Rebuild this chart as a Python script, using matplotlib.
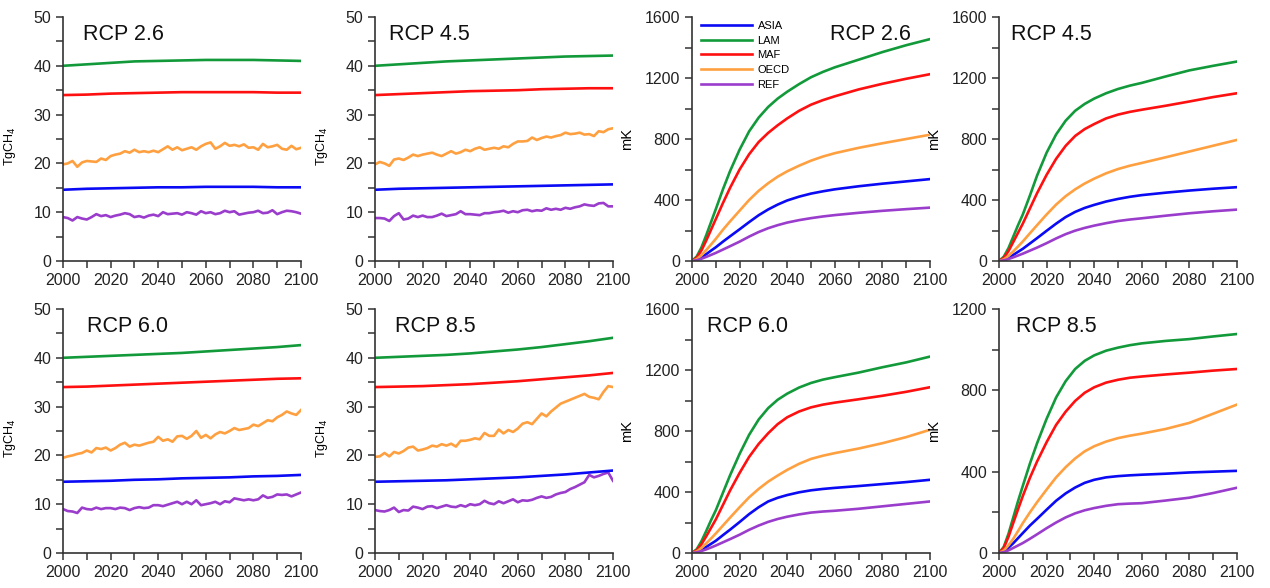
import numpy as np
import matplotlib.pyplot as plt
from matplotlib.ticker import MultipleLocator

plt.rcParams['font.family'] = ['Liberation Sans', 'DejaVu Sans']

# x grids
yr10 = np.arange(2000, 2101, 10)   # smooth emission lines
yr2 = np.arange(2000, 2101, 2)     # noisy emission lines
yr_mk = [2000, 2002, 2004, 2006, 2008, 2010, 2013, 2016, 2020, 2024, 2028,
         2032, 2036, 2040, 2045, 2050, 2055, 2060, 2070, 2080, 2090, 2100]

regions = ["ASIA", "LAM", "MAF", "OECD", "REF"]
colors = {"ASIA": "#0a0af5", "LAM": "#129a3a", "MAF": "#ff1010",
          "OECD": "#ffa040", "REF": "#9a3ccc"}

# ---- CH4 emissions (TgCH4) ----
em26_lam = [40.0, 40.3, 40.6, 40.9, 41.0, 41.1, 41.2, 41.2, 41.2, 41.1, 41.0]
em26_maf = [34.0, 34.1, 34.3, 34.4, 34.5, 34.6, 34.6, 34.6, 34.6, 34.5, 34.5]
em26_asia = [14.6, 14.8, 14.9, 15.0, 15.1, 15.1, 15.2, 15.2, 15.2, 15.1, 15.1]
em26_oecd = [19.8, 20.0, 20.5, 19.3, 20.2, 20.5, 20.4, 20.3, 21.0, 20.7,
             21.5, 21.8, 22.0, 22.5, 22.2, 22.8, 22.3, 22.5, 22.3, 22.6,
             22.3, 22.9, 23.5, 22.8, 23.3, 22.7, 23.0, 23.3, 22.8, 23.5,
             24.0, 24.3, 23.0, 23.5, 24.2, 23.6, 23.8, 23.5, 23.9, 23.2,
             23.3, 22.8, 24.0, 23.3, 23.5, 23.8, 23.0, 22.8, 23.6, 22.9, 23.2]
em26_ref = [9.0, 8.8, 8.3, 9.0, 8.7, 8.5, 9.0, 9.6, 9.2, 9.4,
            9.0, 9.3, 9.5, 9.8, 9.6, 9.0, 9.2, 8.9, 9.3, 9.5,
            9.2, 10.0, 9.6, 9.7, 9.8, 9.5, 10.0, 9.8, 9.5, 10.2,
            9.8, 10.0, 9.6, 9.8, 10.3, 10.0, 10.2, 9.5, 9.7, 9.9,
            10.0, 10.3, 9.8, 9.9, 10.4, 9.6, 10.0, 10.3, 10.2, 10.0, 9.7]

em45_lam = [40.0, 40.3, 40.6, 40.9, 41.1, 41.3, 41.5, 41.7, 41.9, 42.0, 42.1]
em45_maf = [34.0, 34.2, 34.4, 34.6, 34.8, 34.9, 35.0, 35.2, 35.3, 35.4, 35.4]
em45_asia = [14.6, 14.8, 14.9, 15.0, 15.1, 15.2, 15.3, 15.4, 15.5, 15.6, 15.7]
em45_oecd = [19.8, 20.3, 20.0, 19.5, 20.8, 21.0, 20.7, 21.2, 21.8, 21.5,
             21.8, 22.0, 22.2, 21.8, 21.5, 22.0, 22.5, 22.0, 22.3, 22.8,
             22.5, 23.0, 23.3, 22.8, 23.0, 23.2, 23.0, 23.5, 23.3, 24.0,
             24.5, 24.5, 24.6, 25.3, 24.8, 25.2, 25.5, 25.3, 25.6, 25.8,
             26.3, 26.0, 26.1, 26.3, 25.9, 26.0, 25.6, 26.6, 26.4, 27.0, 27.2]
em45_ref = [8.8, 8.8, 8.7, 8.2, 9.2, 9.8, 8.5, 8.7, 9.3, 9.0,
            9.3, 9.0, 9.0, 9.3, 9.7, 9.2, 9.4, 9.6, 10.2, 9.6,
            9.6, 9.5, 9.4, 9.8, 9.8, 10.0, 10.1, 10.3, 9.9, 10.2,
            10.0, 10.4, 10.5, 10.2, 10.4, 10.3, 10.8, 10.5, 10.7, 10.5,
            10.9, 10.7, 11.0, 11.2, 11.6, 11.4, 11.3, 11.8, 11.9, 11.2, 11.2]

em60_lam = [40.0, 40.2, 40.4, 40.6, 40.8, 41.0, 41.3, 41.6, 41.9, 42.2, 42.6]
em60_maf = [34.0, 34.1, 34.3, 34.5, 34.7, 34.9, 35.1, 35.3, 35.5, 35.7, 35.8]
em60_asia = [14.6, 14.7, 14.8, 15.0, 15.1, 15.3, 15.4, 15.5, 15.7, 15.8, 16.0]
em60_oecd = [19.5, 19.8, 20.0, 20.3, 20.5, 21.0, 20.6, 21.5, 21.3, 21.6,
             21.0, 21.5, 22.2, 22.6, 21.8, 22.2, 22.0, 22.3, 22.6, 22.8,
             23.8, 23.0, 23.3, 22.8, 23.9, 24.0, 23.4, 24.0, 25.0, 23.6,
             24.2, 23.5, 24.3, 24.8, 24.5, 25.0, 25.6, 25.2, 25.4, 25.6,
             26.3, 26.0, 26.6, 27.2, 27.0, 27.8, 28.3, 29.0, 28.6, 28.3, 29.3]
em60_ref = [9.0, 8.6, 8.5, 8.2, 9.3, 9.0, 8.9, 9.3, 9.0, 9.2,
            9.2, 9.0, 9.3, 9.2, 8.8, 9.2, 9.4, 9.2, 9.3, 9.8,
            9.8, 9.6, 9.9, 10.2, 10.5, 10.0, 10.5, 10.0, 10.8, 9.8,
            10.0, 10.2, 10.5, 10.0, 10.6, 10.4, 11.2, 11.0, 10.8, 11.0,
            10.8, 11.0, 11.8, 11.3, 11.5, 12.0, 11.9, 12.0, 11.6, 12.0, 12.4]

em85_lam = [40.0, 40.2, 40.4, 40.6, 40.9, 41.3, 41.7, 42.2, 42.8, 43.4, 44.1]
em85_maf = [34.0, 34.1, 34.2, 34.4, 34.6, 34.9, 35.2, 35.6, 36.0, 36.4, 36.9]
em85_asia = [14.6, 14.7, 14.8, 14.9, 15.1, 15.3, 15.5, 15.8, 16.1, 16.5, 16.9]
em85_oecd = [19.7, 19.8, 20.5, 19.8, 20.7, 20.4, 20.9, 21.6, 21.8, 21.0,
             21.2, 21.5, 22.0, 21.8, 22.3, 22.0, 22.4, 21.8, 23.0, 23.0,
             23.2, 23.5, 23.3, 24.6, 24.0, 24.0, 25.3, 24.5, 25.2, 24.8,
             25.5, 26.5, 26.8, 26.4, 27.5, 28.6, 28.0, 29.0, 29.8, 30.6,
             31.0, 31.4, 31.8, 32.2, 32.6, 32.0, 31.8, 31.5, 33.0, 34.2, 34.0]
em85_ref = [8.8, 8.6, 8.5, 8.8, 9.3, 8.4, 8.8, 8.7, 9.5, 9.3,
            9.0, 9.5, 9.6, 9.2, 9.5, 9.8, 9.5, 9.4, 9.8, 9.5,
            10.0, 9.8, 10.0, 10.7, 10.2, 10.0, 10.6, 10.2, 10.6, 11.0,
            10.4, 10.8, 10.7, 10.9, 11.3, 11.6, 11.3, 11.5, 12.0, 12.3,
            12.5, 13.1, 13.5, 14.0, 14.5, 16.0, 15.5, 15.8, 16.2, 16.5, 14.8]

# ---- temperature response (mK), at yr_mk ----
mk26_asia = [0, 8, 25, 45, 68, 90, 127, 162, 208, 255, 300, 338, 370, 397, 422, 442, 457, 470, 490, 507, 522, 537]
mk26_lam = [0, 30, 90, 170, 255, 340, 470, 590, 730, 850, 940, 1010, 1065, 1110, 1160, 1205, 1240, 1270, 1320, 1370, 1415, 1455]
mk26_maf = [0, 22, 70, 135, 205, 275, 380, 480, 600, 700, 780, 840, 890, 935, 985, 1025, 1055, 1080, 1125, 1162, 1195, 1225]
mk26_oecd = [0, 12, 38, 72, 108, 145, 205, 260, 330, 400, 460, 510, 553, 588, 625, 658, 685, 707, 742, 772, 800, 828]
mk26_ref = [0, 5, 15, 27, 40, 53, 75, 97, 127, 160, 190, 215, 235, 252, 268, 281, 292, 301, 316, 329, 340, 350]

mk45_asia = [0, 7, 22, 40, 60, 80, 115, 150, 198, 245, 288, 322, 348, 368, 390, 407, 421, 432, 448, 462, 474, 484]
mk45_lam = [0, 28, 85, 160, 235, 305, 430, 560, 710, 830, 920, 985, 1030, 1065, 1100, 1128, 1150, 1168, 1210, 1250, 1280, 1308]
mk45_maf = [0, 20, 65, 125, 185, 245, 345, 445, 565, 670, 755, 820, 865, 898, 935, 960, 978, 992, 1018, 1046, 1075, 1100]
mk45_oecd = [0, 10, 33, 63, 95, 128, 182, 235, 305, 370, 425, 470, 508, 540, 575, 603, 625, 643, 680, 718, 756, 794]
mk45_ref = [0, 4, 13, 24, 36, 48, 68, 88, 117, 148, 176, 199, 217, 232, 248, 262, 272, 280, 297, 313, 326, 337]

mk60_asia = [0, 7, 22, 40, 60, 80, 117, 153, 203, 255, 300, 338, 362, 380, 398, 411, 420, 427, 439, 452, 465, 480]
mk60_lam = [0, 25, 78, 145, 215, 280, 395, 510, 650, 775, 875, 950, 1005, 1045, 1085, 1115, 1137, 1153, 1183, 1218, 1250, 1288]
mk60_maf = [0, 18, 58, 110, 165, 220, 315, 410, 525, 630, 715, 785, 845, 890, 928, 955, 973, 986, 1008, 1031, 1057, 1087]
mk60_oecd = [0, 10, 33, 63, 95, 128, 180, 232, 300, 365, 420, 468, 508, 545, 585, 617, 638, 655, 685, 720, 760, 808]
mk60_ref = [0, 4, 13, 24, 36, 49, 70, 91, 120, 152, 180, 204, 223, 238, 253, 265, 272, 277, 290, 306, 322, 338]

mk85_asia = [0, 8, 26, 48, 73, 98, 135, 168, 213, 257, 293, 322, 345, 360, 372, 378, 382, 385, 390, 396, 400, 404]
mk85_lam = [0, 30, 95, 175, 255, 330, 440, 540, 660, 765, 845, 905, 945, 972, 995, 1010, 1022, 1031, 1043, 1052, 1065, 1077]
mk85_maf = [0, 25, 80, 148, 215, 280, 370, 450, 545, 630, 695, 748, 788, 815, 838, 852, 862, 868, 878, 887, 897, 905]
mk85_oecd = [0, 12, 38, 70, 108, 147, 200, 250, 312, 372, 422, 465, 500, 525, 548, 565, 577, 587, 610, 640, 685, 730]
mk85_ref = [0, 4, 13, 25, 37, 49, 70, 92, 122, 150, 175, 195, 210, 221, 232, 240, 243, 245, 258, 272, 295, 321]

scenarios = ["RCP 2.6", "RCP 4.5", "RCP 6.0", "RCP 8.5"]
emissions = [
    (em26_asia, em26_lam, em26_maf, em26_oecd, em26_ref),
    (em45_asia, em45_lam, em45_maf, em45_oecd, em45_ref),
    (em60_asia, em60_lam, em60_maf, em60_oecd, em60_ref),
    (em85_asia, em85_lam, em85_maf, em85_oecd, em85_ref),
]
temps = [
    (mk26_asia, mk26_lam, mk26_maf, mk26_oecd, mk26_ref),
    (mk45_asia, mk45_lam, mk45_maf, mk45_oecd, mk45_ref),
    (mk60_asia, mk60_lam, mk60_maf, mk60_oecd, mk60_ref),
    (mk85_asia, mk85_lam, mk85_maf, mk85_oecd, mk85_ref),
]

W, H = 1270, 588
fig = plt.figure(figsize=(W / 100, H / 100), dpi=100)

AXW, AXH = 238, 244
em_left = [63, 375, 63, 375]
mk_left = [692, 999, 692, 999]
row_bottom = [261, 261, 553, 553]   # pixel y of the x axis
em_title_x = [0.085, 0.06, 0.10, 0.085]
mk_title_x = [0.58, 0.05, 0.065, 0.07]
mk_ymax = [1600, 1600, 1600, 1200]
lw = 1.9
spine_col = "#333333"


def make_ax(left, bottom_px):
    ax = fig.add_axes([left / W, 1 - bottom_px / H, AXW / W, AXH / H])
    for s in ("top", "right"):
        ax.spines[s].set_visible(False)
    for s in ("left", "bottom"):
        ax.spines[s].set_color(spine_col)
        ax.spines[s].set_linewidth(1.2)
    ax.set_xlim(2000, 2100)
    ax.xaxis.set_major_locator(MultipleLocator(20))
    ax.xaxis.set_minor_locator(MultipleLocator(10))
    ax.tick_params(which="both", direction="out", length=5, width=1.1,
                   color=spine_col, labelsize=11.5, labelcolor="#222222")
    return ax


for i, scen in enumerate(scenarios):
    # emissions panel
    ax = make_ax(em_left[i], row_bottom[i])
    asia, lam, maf, oecd, ref = emissions[i]
    ax.plot(yr2, ref, color=colors["REF"], lw=lw)
    ax.plot(yr2, oecd, color=colors["OECD"], lw=lw)
    ax.plot(yr10, asia, color=colors["ASIA"], lw=lw)
    ax.plot(yr10, maf, color=colors["MAF"], lw=lw)
    ax.plot(yr10, lam, color=colors["LAM"], lw=lw)
    ax.set_ylim(0, 50)
    ax.yaxis.set_major_locator(MultipleLocator(10))
    ax.yaxis.set_minor_locator(MultipleLocator(5))
    ax.set_ylabel("TgCH$_4$", fontsize=9)
    ax.yaxis.set_label_coords(-0.19, 0.47)
    ax.text(em_title_x[i], 0.93, scen, transform=ax.transAxes,
            fontsize=15.5, va="center", ha="left", color="#111111")

    # temperature panel
    ax = make_ax(mk_left[i], row_bottom[i])
    asia, lam, maf, oecd, ref = temps[i]
    handles = []
    for name, vals in zip(regions, (asia, lam, maf, oecd, ref)):
        h, = ax.plot(yr_mk, vals, color=colors[name], lw=lw, label=name)
        handles.append(h)
    ax.set_ylim(0, mk_ymax[i])
    ax.yaxis.set_major_locator(MultipleLocator(400))
    ax.yaxis.set_minor_locator(MultipleLocator(200))
    ax.set_ylabel("mK", fontsize=10.5)
    ax.yaxis.set_label_coords(-0.245, 0.5)
    ax.text(mk_title_x[i], 0.93, scen, transform=ax.transAxes,
            fontsize=15.5, va="center", ha="left", color="#111111")
    if i == 0:
        ax.legend(handles=handles, loc="upper left", bbox_to_anchor=(0.0, 1.02),
                  frameon=False, fontsize=8, handlelength=4.6,
                  handletextpad=0.5, labelspacing=0.42, borderpad=0.3)

fig.savefig("out.png", dpi=100)
